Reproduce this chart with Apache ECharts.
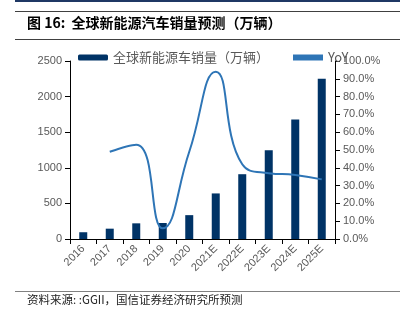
<!DOCTYPE html>
<html><head><meta charset="utf-8">
<script src="https://cdn.jsdelivr.net/npm/echarts@6/dist/echarts.min.js"></script>
<style>html,body{margin:0;padding:0;background:#fff}#c{width:408px;height:324px}</style>
</head><body><div id="c"></div>
<script>
const categories = ['2016','2017','2018','2019','2020','2021E','2022E','2023E','2024E','2025E'];
const salesValues = [95, 145, 220, 225, 335, 640, 910, 1245, 1680, 2250];
const yoyValues = [null, 49, 53, 6, 49, 94, 42, 37, 36, 33.5];
const leftTicks = {min: 0, max: 2500, interval: 500};
const rightTicks = {min: 0, max: 100, interval: 10};

const chart = echarts.init(document.getElementById('c'), null, {renderer: 'canvas'});
const gray = '#595959';
chart.setOption({
  animation: false,
  backgroundColor: '#fff',
  textStyle: {fontFamily: 'Liberation Sans, Arial, sans-serif'},
  graphic: [
    {type: 'rect', shape: {x: 15, y: 0, width: 385, height: 2}, style: {fill: '#1f3864'}},
    {type: 'rect', shape: {x: 15, y: 11, width: 385, height: 1}, style: {fill: '#404040'}},
    {type: 'text', left: 27, top: 16, style: {text: '图 16:  全球新能源汽车销量预测（万辆）', font: 'bold 14px "Noto Sans CJK SC", sans-serif', fill: '#000'}},
    {type: 'rect', shape: {x: 15, y: 39, width: 385, height: 1}, style: {fill: '#404040'}},
    {type: 'rect', shape: {x: 15, y: 291, width: 385, height: 1}, style: {fill: '#808080'}},
    {type: 'text', left: 27, top: 294, style: {text: '资料来源: :GGII，国信证券经济研究所预测', font: '11.5px "Noto Sans CJK SC", sans-serif', fill: '#222'}}
  ],
  legend: {
    top: 51, left: 78, itemGap: 24, itemWidth: 30, itemHeight: 6, padding: [0, 0],
    textStyle: {color: gray, fontSize: 13, fontFamily: '"Noto Sans CJK SC", sans-serif'},
    data: [{name: '全球新能源车销量（万辆）'}, {name: 'YoY', icon: 'rect', itemStyle: {color: '#2E75B6'}}]
  },
  grid: {left: 70, right: 73, top: 61, bottom: 85},
  xAxis: {
    type: 'category', data: categories,
    axisLine: {lineStyle: {color: '#000'}},
    axisTick: {show: true, alignWithLabel: false, lineStyle: {color: '#000'}},
    axisLabel: {rotate: 45, color: gray, fontSize: 11, margin: 8}
  },
  yAxis: [
    {type: 'value', min: leftTicks.min, max: leftTicks.max, interval: leftTicks.interval,
     axisLine: {show: true, lineStyle: {color: '#000'}}, axisTick: {show: true, lineStyle: {color: '#000'}},
     splitLine: {show: false}, axisLabel: {color: gray, fontSize: 11, formatter: v => String(v)}},
    {type: 'value', min: rightTicks.min, max: rightTicks.max, interval: rightTicks.interval, position: 'right',
     axisLine: {show: true, lineStyle: {color: '#000'}}, axisTick: {show: true, lineStyle: {color: '#000'}},
     splitLine: {show: false}, axisLabel: {color: gray, fontSize: 11, formatter: v => v.toFixed(1) + '%'}}
  ],
  series: [
    {name: '全球新能源车销量（万辆）', type: 'bar', data: salesValues, barWidth: 8, itemStyle: {color: '#003366'}},
    {name: 'YoY', type: 'line', yAxisIndex: 1, data: yoyValues, smooth: true, showSymbol: false,
     lineStyle: {color: '#2E75B6', width: 2}, itemStyle: {color: '#2E75B6'}}
  ]
});
</script></body></html>
